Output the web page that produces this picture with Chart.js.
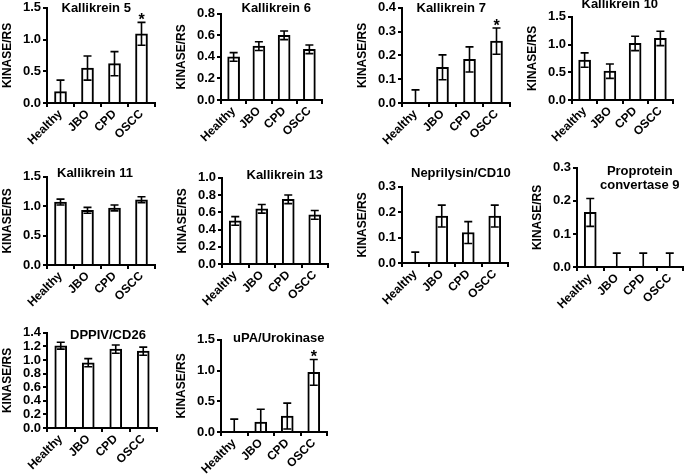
<!DOCTYPE html>
<html>
<head>
<meta charset="utf-8">
<script src="https://cdn.jsdelivr.net/npm/chart.js@4"></script>
<style>
  body { margin: 0; background: #fff; width: 685px; height: 475px; position: relative; overflow: hidden;
         font-family: "Liberation Sans", Arial, sans-serif; }
  canvas { position: absolute; }
  .ttl { position: absolute; font-weight: bold; font-size: 13px; line-height: 14px; white-space: nowrap;
         color: #000; text-align: center; }
</style>
</head>
<body>
<script>
// groups on the x axis
const groups = ['Healthy', 'JBO', 'CPD', 'OSCC'];

// mean KINASE/RS and error
const kallikrein5 = [0.18, 0.55, 0.62, 1.09];
const kallikrein5Err = [0.18, 0.19, 0.19, 0.18];
const kallikrein6 = [0.40, 0.50, 0.60, 0.47];
const kallikrein6Err = [0.04, 0.04, 0.04, 0.04];
const kallikrein7 = [0, 0.15, 0.183, 0.26];
const kallikrein7Err = [0.055, 0.052, 0.053, 0.055];
const kallikrein10 = [0.72, 0.52, 1.02, 1.11];
const kallikrein10Err = [0.13, 0.13, 0.13, 0.13];
const kallikrein11 = [1.07, 0.93, 0.97, 1.11];
const kallikrein11Err = [0.05, 0.05, 0.05, 0.05];
const kallikrein13 = [0.50, 0.64, 0.75, 0.57];
const kallikrein13Err = [0.05, 0.05, 0.05, 0.05];
const neprilysin = [0, 0.185, 0.12, 0.185];
const neprilysinErr = [0.043, 0.043, 0.043, 0.043];
const pcsk9 = [0.165, 0, 0, 0];
const pcsk9Err = [0.042, 0.042, 0.042, 0.042];
const dppiv = [1.21, 0.96, 1.16, 1.13];
const dppivErr = [0.05, 0.06, 0.06, 0.06];
const upa = [0, 0.16, 0.26, 0.97];
const upaErr = [0.21, 0.21, 0.21, 0.21];

// significance marks
const noStar = [false, false, false, false];
const oscsStar = [false, false, false, true];

// axis ranges (max, step)
const range15 = [1.5, 0.5];
const range08 = [0.8, 0.2];
const range04 = [0.4, 0.1];
const range10 = [1.0, 0.2];
const range03 = [0.3, 0.1];
const range14 = [1.4, 0.2];

const yLabel = 'KINASE/RS';
const FONT = '"Liberation Sans", Arial, sans-serif';

// box: axis left x, top y, zero y, right x ; ttl: centre x, top y
const panels = [
  { title: ['Kallikrein 5'], values: kallikrein5, errors: kallikrein5Err, range: range15, star: oscsStar, box: [47, 6, 103, 155], ttl: [96, 1] },
  { title: ['Kallikrein 6'], values: kallikrein6, errors: kallikrein6Err, range: range08, star: noStar, box: [221, 12, 100, 322], ttl: [276, 1] },
  { title: ['Kallikrein 7'], values: kallikrein7, errors: kallikrein7Err, range: range04, star: oscsStar, box: [402, 6, 103, 510], ttl: [451, 1] },
  { title: ['Kallikrein 10'], values: kallikrein10, errors: kallikrein10Err, range: range15, star: noStar, box: [572, 15, 100, 673], ttl: [620, -3] },
  { title: ['Kallikrein 11'], values: kallikrein11, errors: kallikrein11Err, range: range15, star: noStar, box: [47, 175, 265, 155], ttl: [95, 166] },
  { title: ['Kallikrein 13'], values: kallikrein13, errors: kallikrein13Err, range: range10, star: noStar, box: [222, 176, 264, 328], ttl: [285, 168] },
  { title: ['Neprilysin/CD10'], values: neprilysin, errors: neprilysinErr, range: range03, star: noStar, box: [402, 185, 263, 508], ttl: [461, 166] },
  { title: ['Proprotein', 'convertase 9'], values: pcsk9, errors: pcsk9Err, range: range03, star: noStar, box: [577, 166, 267, 683], ttl: [640, 164] },
  { title: ['DPPIV/CD26'], values: dppiv, errors: dppivErr, range: range14, star: noStar, box: [47, 331, 428, 157], ttl: [108, 328] },
  { title: ['uPA/Urokinase'], values: upa, errors: upaErr, range: range15, star: oscsStar, box: [221, 338, 432, 327], ttl: [279, 331] }
];

const Y_W = 47, X_H = 50, PAD_T = 8, PAD_R = 3;

const errorBars = {
  id: 'errorBars',
  afterDatasetsDraw(chart) {
    const ds = chart.data.datasets[0];
    const meta = chart.getDatasetMeta(0);
    const y = chart.scales.y;
    const ctx = chart.ctx;
    ctx.save();
    ctx.strokeStyle = '#000';
    ctx.fillStyle = '#000';
    ctx.lineWidth = 1.6;
    meta.data.forEach((bar, i) => {
      const v = ds.data[i], e = ds.errors[i];
      const lo = Math.max(0, v - e);
      const top = y.getPixelForValue(v + e);
      const bot = y.getPixelForValue(lo);
      const x = bar.x;
      ctx.beginPath();
      ctx.moveTo(x, top); ctx.lineTo(x, bot);
      ctx.moveTo(x - 4, top); ctx.lineTo(x + 4, top);
      if (lo > 0) { ctx.moveTo(x - 4, bot); ctx.lineTo(x + 4, bot); }
      ctx.stroke();
      if (ds.star[i]) {
        ctx.font = 'bold 16px ' + FONT;
        ctx.textAlign = 'center';
        ctx.textBaseline = 'alphabetic';
        ctx.fillText('*', x, top + 3);
      }
    });
    ctx.restore();
  }
};

panels.forEach(p => {
  const [ax, ty, by, rx] = p.box;
  const cv = document.createElement('canvas');
  const w = Y_W + (rx - ax) + PAD_R;
  const h = PAD_T + (by - ty) + X_H;
  cv.width = w; cv.height = h;
  cv.style.left = (ax - Y_W) + 'px';
  cv.style.top = (ty - PAD_T) + 'px';
  cv.style.width = w + 'px'; cv.style.height = h + 'px';
  document.body.appendChild(cv);

  const t = document.createElement('div');
  t.className = 'ttl';
  t.innerHTML = p.title.join('<br>');
  document.body.appendChild(t);
  t.style.left = (p.ttl[0] - t.offsetWidth / 2) + 'px';
  t.style.top = p.ttl[1] + 'px';

  new Chart(cv, {
    type: 'bar',
    data: {
      labels: groups,
      datasets: [{
        data: p.values,
        errors: p.errors,
        star: p.star,
        backgroundColor: '#fff',
        borderColor: '#000',
        borderWidth: 2,
        borderSkipped: 'start',
        barThickness: 12
      }]
    },
    options: {
      responsive: false,
      devicePixelRatio: 1,
      animation: false,
      layout: { padding: { top: PAD_T, right: PAD_R, left: 0, bottom: 0 } },
      plugins: { legend: { display: false }, tooltip: { enabled: false } },
      scales: {
        x: {
          type: 'category',
          offset: true,
          grid: { offset: true, drawOnChartArea: false, drawTicks: true, tickLength: 4, color: '#000', lineWidth: 2 },
          border: { color: '#000', width: 2 },
          ticks: { color: '#000', font: { family: FONT, size: 12, weight: 'bold' }, minRotation: 45, maxRotation: 45, autoSkip: false, padding: 0 },
          afterFit(s) { s.height = X_H; }
        },
        y: {
          min: 0,
          max: p.range[0],
          grid: { drawOnChartArea: false, drawTicks: true, tickLength: 4, color: '#000', lineWidth: 2 },
          border: { color: '#000', width: 2 },
          ticks: { stepSize: p.range[1], autoSkip: false, color: '#000', font: { family: FONT, size: 13, weight: 'bold' }, padding: 2,
                   callback: v => v.toFixed(1) },
          title: { display: true, text: yLabel, color: '#000', font: { family: FONT, size: 12, weight: 'bold' }, padding: { top: 0, bottom: 0 } },
          afterFit(s) { s.width = Y_W; }
        }
      }
    },
    plugins: [errorBars]
  });
});
</script>
</body>
</html>
